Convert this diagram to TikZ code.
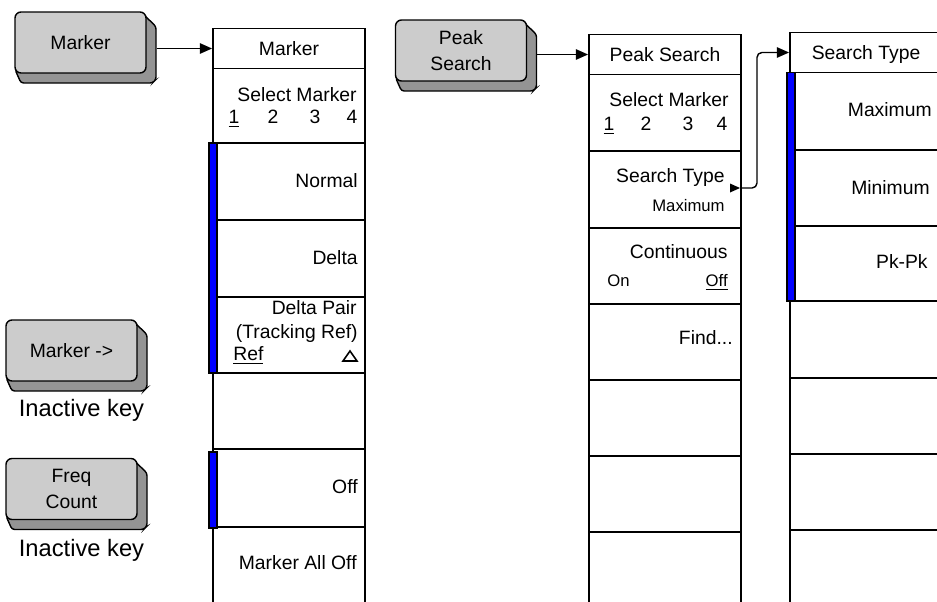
\documentclass[tikz,border=0pt]{standalone}
\usepackage{fontspec}
\setmainfont{Liberation Sans}
\usetikzlibrary{arrows.meta}

\tikzset{
  menu/.style={line width=1.1pt},
  mtitle/.style={draw,line width=1.1pt,fill=white,minimum width=3.04cm,minimum height=0.8cm,inner sep=0pt,text height=7.8pt,text depth=0pt,font=\fontsize{11}{13}\selectfont},
  mt/.style={inner sep=0pt,text height=7.8pt,text depth=0pt,font=\fontsize{11}{13}\selectfont},
  ms/.style={inner sep=0pt,text height=6.8pt,text depth=0pt,font=\fontsize{9.5}{11}\selectfont},
  selbar/.style={draw=black,line width=0.6pt,fill=blue},
  key/.style={draw,line width=0.8pt,fill=black!20,rounded corners=3.4pt,minimum width=2.62cm,minimum height=1.22cm,inner sep=0pt,align=center,font=\fontsize{11}{14.5}\selectfont},
  keyshadow/.style={draw,line width=0.8pt,fill=black!42,rounded corners=1.5pt},
  note/.style={inner sep=0pt,font=\fontsize{13.5}{16}\selectfont},
  link/.style={line width=0.8pt,-{Triangle[length=7pt,width=6pt]}},
}

\begin{document}
\begin{tikzpicture}[x=0.02cm,y=-0.02cm]
  \useasboundingbox (0,0) rectangle (937,602);
  \clip (0,0) rectangle (937,602);

  % front panel keys
  \foreach \n/\cx/\cy/\t in {bMarker/80.5/42.5/Marker, bPeak/461/50.5/{Peak\\Search},
      bMkrTo/71.5/350.5/{Marker ->}, bFreq/71.5/489/{Freq\\Count}}{
    \filldraw[keyshadow] (\cx+63,\cy-28) -- (\cx+75.5,\cy-16) -- (\cx+75.5,\cy+37)
      -- (\cx+72,\cy+40.5) -- (\cx-59.5,\cy+40.5) -- (\cx-65.5,\cy+27) -- cycle;
    \node[key] (\n) at (\cx,\cy) {\t};
  }
  \node[note] (lblMkrTo) at (81.5,410) {Inactive key};
  \node[note] (lblFreq) at (81.5,550) {Inactive key};

  % Marker menu
  \draw[menu] (213,68.5) -- (213,606) (365,68.5) -- (365,606);
  \foreach \y in {143,220,297,373,449,527} \draw[menu] (213,\y) -- (365,\y);
  \node[mtitle] (tMarker) at (289,48.5) {Marker};
  \node[mt,anchor=east] (mkSel) at (357,95) {Select Marker};
  \node[mt] (mkD1) at (234,117) {\underline{1}};
  \foreach \d/\x in {2/273,3/315,4/352} \node[mt] (mkD\d) at (\x,117) {\d};
  \node[mt,anchor=east] (mkNormal) at (358,181) {Normal};
  \node[mt,anchor=east] (mkDelta) at (358,258) {Delta};
  \node[mt,anchor=east] (mkPair) at (357,308) {Delta Pair};
  \node[mt,anchor=east] (mkTrack) at (358,332) {(Tracking Ref)};
  \node[mt,anchor=west] (mkRef) at (233,354) {\underline{Ref}};
  \draw[line width=0.9pt] (343,361) -- (350,351) -- (357,361) -- cycle;
  \node[mt,anchor=east] (mkOff) at (358,487) {Off};
  \node[mt,anchor=east] (mkAllOff) at (357,563) {Marker All Off};
  \filldraw[selbar] (209,143) rectangle (217,373);
  \filldraw[selbar] (209,452) rectangle (217,528);

  % Peak Search menu
  \draw[menu] (589,74.5) -- (589,606) (741,74.5) -- (741,606);
  \foreach \y in {151,228,304,380,456,532} \draw[menu] (589,\y) -- (741,\y);
  \node[mtitle] (tPeak) at (665,54.5) {Peak Search};
  \node[mt,anchor=east] (psSel) at (729,100) {Select Marker};
  \node[mt] (psD1) at (609,124) {\underline{1}};
  \foreach \d/\x in {2/646,3/688,4/722} \node[mt] (psD\d) at (\x,124) {\d};
  \node[mt,anchor=east] (psType) at (725,176) {Search Type};
  \node[ms,anchor=east] (psMax) at (725,206) {Maximum};
  \fill (730,183.5) -- (740,188) -- (730,192.5) -- cycle;
  \node[mt,anchor=east] (psCont) at (728,252) {Continuous};
  \node[ms,anchor=west] (psOn) at (607,281) {On};
  \node[ms,anchor=east] (psOff) at (728,281) {\underline{Off}};
  \node[mt,anchor=east] (psFind) at (733,338) {Find...};

  % Search Type menu
  \draw[menu] (790,72.5) -- (790,606);
  \foreach \y in {150,226,301,378,454,530} \draw[menu] (790,\y) -- (945,\y);
  \node[mtitle] (tType) at (866,52.5) {Search Type};
  \node[mt,anchor=east] (stMax) at (932,110) {Maximum};
  \node[mt,anchor=east] (stMin) at (930,188) {Minimum};
  \node[mt,anchor=east] (stPk) at (928,262) {Pk-Pk};
  \filldraw[selbar] (787,72.5) rectangle (795,301);

  % connectors
  \draw[link] (bMarker.east |- tMarker.west) ++(10,0) -- (tMarker.west);
  \draw[link] (bPeak.east |- tPeak.west) ++(10,0) -- (tPeak.west);
  \coordinate (stOut) at (740,188);
  \coordinate (stBend) at (757,188);
  \draw[link,rounded corners=2.8pt] (stOut) -- (stBend) |- (tType.west);
\end{tikzpicture}
\end{document}
